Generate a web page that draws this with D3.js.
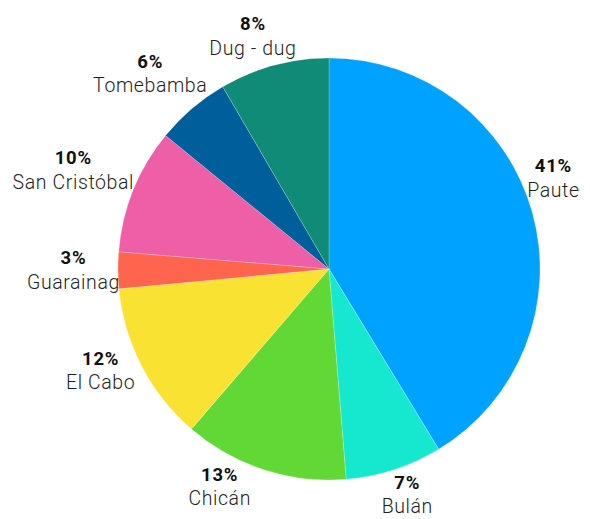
<!DOCTYPE html>
<html>
<head>
<meta charset="utf-8">
<script src="https://cdn.jsdelivr.net/npm/d3@7"></script>
<style>
  html, body { margin: 0; padding: 0; background: #fff; }
  svg text { font-family: "Roboto", "DejaVu Sans", sans-serif; }
</style>
</head>
<body>
<svg id="chart" width="590" height="519"></svg>
<script>
// Share of each parish (percent), clockwise from 12 o'clock
const parishes = ["Paute", "Bulán", "Chicán", "El Cabo", "Guarainag", "San Cristóbal", "Tomebamba", "Dug - dug"];
const shares   = [41.3, 7.4, 12.6, 12.2, 2.8, 9.6, 5.7, 8.4];
const colors   = ["#00A2FF", "#16E7CF", "#61D836", "#FAE232", "#FF644E", "#EF5FA7", "#005E9A", "#0F8B77"];

const width = 590, height = 519;
const cx = 329, cy = 269, radius = 211;

const svg = d3.select("#chart");
const g = svg.append("g").attr("transform", `translate(${cx},${cy})`);

const total = d3.sum(shares);
const pie = d3.pie().sort(null).value(d => d.value);
const arcs = pie(parishes.map((name, i) => ({ name, value: shares[i], color: colors[i] })));
const arc = d3.arc().innerRadius(0).outerRadius(radius);

g.selectAll("path.slice")
  .data(arcs)
  .join("path")
  .attr("class", "slice")
  .attr("d", arc)
  .attr("fill", d => d.data.color)
  .attr("stroke", "#ffffff")
  .attr("stroke-opacity", 0.35)
  .attr("stroke-width", 0.6);

// Two-line labels (bold percent over parish name) pushed just outside the rim
const pctSize = 18.5, nameSize = 19.5, lineGap = 24.5, pad = -2;
const WEST = 1.5 * Math.PI;

// Label direction: on the left half labels are eased toward the horizontal
// (more strongly below it), on the right half they fan slightly away from 6 o'clock.
function labelAngle(a) {
  if (a > Math.PI) {
    const k = a > WEST ? 0.96 : 0.88;
    return WEST + k * (a - WEST);
  }
  return Math.PI - 1.06 * (Math.PI - a);
}

const labels = g.selectAll("g.label")
  .data(arcs)
  .join("g")
  .attr("class", "label");

labels.append("text")
  .attr("class", "pct")
  .attr("text-anchor", "middle")
  .attr("font-weight", 700)
  .attr("font-size", pctSize)
  .attr("letter-spacing", 0.8)
  .attr("fill", "#111")
  .attr("y", 0)
  .text(d => Math.round(d.value / total * 100) + "%");

labels.append("text")
  .attr("class", "name")
  .attr("text-anchor", "middle")
  .attr("font-size", nameSize)
  .attr("font-weight", 300)
  .attr("letter-spacing", 0.6)
  .attr("fill", "#1e1e1e")
  .attr("y", lineGap)
  .text(d => d.data.name);

labels.each(function(d) {
  const node = d3.select(this);
  const box = this.getBBox();
  const a = labelAngle((d.startAngle + d.endAngle) / 2);
  const s = Math.sin(a), c = -Math.cos(a);
  const hw = box.width / 2, hh = box.height / 2;
  const dist = radius + pad + hw * Math.abs(s) + hh * Math.abs(c);
  const bx = dist * s, by = dist * c;
  const offY = box.y + hh; // block centre relative to first baseline
  node.attr("transform", `translate(${bx},${by - offY})`);
});
</script>
</body>
</html>
